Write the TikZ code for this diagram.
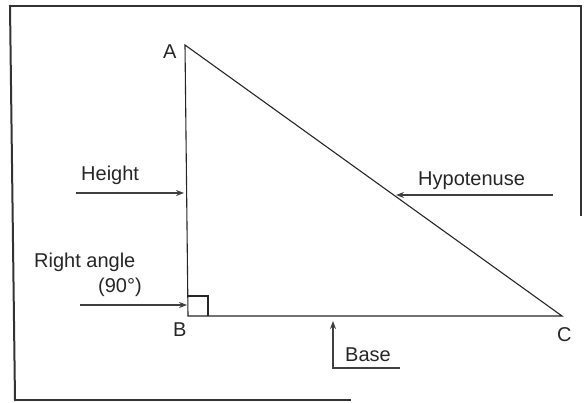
\documentclass[tikz,border=0pt]{standalone}
\usepackage{fontspec}
\setmainfont{Liberation Sans}
\usetikzlibrary{arrows.meta}
\begin{document}
\begin{tikzpicture}[x=1pt,y=-1pt,
  frameline/.style={line width=2pt,draw=black!80,line cap=rect},
  side/.style={line width=1.1pt,draw=black!85},
  pointer/.style={line width=1.3pt,draw=black!75,-{Stealth[length=8pt,width=6pt]}},
  lbl/.style={font=\fontsize{20}{22}\selectfont,text=black!85,inner sep=0pt,anchor=base west}]
\useasboundingbox (0,0) rectangle (587,403);
% frame (as visible in the scan)
\coordinate (f1) at (10,6);
\coordinate (f2) at (581,6);
\coordinate (f3) at (581,215);
\coordinate (f4) at (15,400);
\coordinate (f5) at (350,400);
\draw[frameline] (f1) -- (f2);
\draw[frameline] (f2) -- (f3);
\draw[frameline] (f1) -- (f4);
\draw[frameline] (f4) -- (f5);
% triangle
\coordinate (A) at (185,45);
\coordinate (B) at (188,316);
\coordinate (C) at (562,316);
\draw[side] (A) -- (B) -- (C) -- cycle;
\draw[side] (188,296) -- (208,296) -- (208,316);
% vertex labels
\node[lbl] (la) at (163,59) {A};
\node[lbl] (lb) at (173,337) {B};
\node[lbl] (lc) at (557,342) {C};
% height
\node[lbl] (height) at (81,181) {Height};
\coordinate (h0) at (76,193);
\coordinate (h1) at (184,193);
\draw[pointer] (h0) -- (h1);
% hypotenuse
\node[lbl] (hyp) at (418,186) {Hypotenuse};
\coordinate (p0) at (553,195);
\coordinate (p1) at (396,195);
\draw[pointer] (p0) -- (p1);
% right angle
\node[lbl] (ra) at (34,268) {Right angle};
\node[lbl] (deg) at (98,293) {(90°)};
\coordinate (r0) at (80,305);
\coordinate (r1) at (187,305);
\draw[pointer] (r0) -- (r1);
% base
\node[lbl] (base) at (345,362) {Base};
\coordinate (b0) at (400,368);
\coordinate (b1) at (333,368);
\coordinate (b2) at (333,321);
\draw[pointer] (b0) -- (b1) -- (b2);
\end{tikzpicture}
\end{document}
